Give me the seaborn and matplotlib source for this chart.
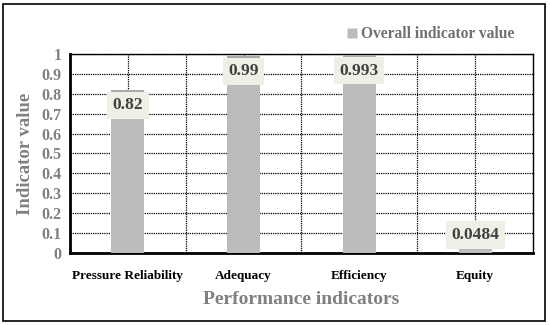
import matplotlib
matplotlib.use("Agg")
import matplotlib.pyplot as plt
import seaborn as sns
import pandas as pd
from matplotlib.patches import Rectangle
from matplotlib.lines import Line2D

categories = ["Pressure Reliability", "Adequacy", "Efficiency", "Equity"]
values = [0.82, 0.99, 0.993, 0.0484]
value_labels = ["0.82", "0.99", "0.993", "0.0484"]
y_ticks = [0, 0.1, 0.2, 0.3, 0.4, 0.5, 0.6, 0.7, 0.8, 0.9, 1]
y_tick_labels = ["0", "0.1", "0.2", "0.3", "0.4", "0.5", "0.6", "0.7", "0.8", "0.9", "1"]

sns.set_theme(style="white")
plt.rcParams["font.family"] = ["Liberation Serif", "DejaVu Serif"]
plt.rcParams["font.weight"] = "bold"

df = pd.DataFrame({"indicator": categories, "value": values})

fig = plt.figure(figsize=(5.5, 3.25), dpi=100)
ax = fig.add_axes([0.127, 0.2215, 0.842, 0.6125])

bar_color = "#bcbcbc"
sns.barplot(data=df, x="indicator", y="value", color=bar_color, width=0.285,
            saturation=1, ax=ax, zorder=3)
for p in ax.patches:
    p.set_edgecolor("none")

ax.set_xlim(-0.5, 3.5)
ax.set_ylim(0, 1)
ax.set_yticks(y_ticks)
ax.set_yticklabels(y_tick_labels, color="#808080", fontsize=11.5, fontweight="bold")
ax.set_xticks(range(len(categories)))
ax.set_xticklabels(categories, color="black", fontsize=9.5, fontweight="bold")
ax.set_xticks([0.5, 1.5, 2.5], minor=True)

ax.grid(True, which="major", axis="y", color="black", linestyle=(0, (1, 0.8)), linewidth=0.9, zorder=0)
ax.grid(True, which="both", axis="x", color="black", linestyle=(0, (1, 0.8)), linewidth=0.9, zorder=0)

for side in ["left", "bottom"]:
    ax.spines[side].set_linewidth(2)
    ax.spines[side].set_color("black")
for side in ["top", "right"]:
    ax.spines[side].set_linewidth(1)
    ax.spines[side].set_color("black")

ax.tick_params(axis="y", which="major", direction="in", length=5, width=1.5, pad=6, colors="black", labelcolor="#808080")
ax.tick_params(axis="x", which="major", direction="in", length=0, pad=12)
ax.tick_params(axis="x", which="minor", length=0)

ax.set_ylabel("Indicator value", color="#808080", fontsize=13.5, fontweight="bold", labelpad=5)
ax.set_xlabel("Performance indicators", color="#808080", fontsize=14, fontweight="bold", labelpad=7)

# darker top strip of each bar (visible above the label box)
for i, v in enumerate(values):
    if v > 0.1:
        ax.bar(i, 0.012, bottom=v - 0.012, width=0.285, color="#a9a9a9", zorder=4, linewidth=0)

for i, (v, lab) in enumerate(zip(values, value_labels)):
    if v > 0.1:
        y = v - 0.078
    else:
        y = v + 0.042
    ax.text(i, y, lab, ha="center", va="center", fontsize=12.5, fontweight="bold",
            color="#404040", zorder=5,
            bbox=dict(boxstyle="square,pad=0.32", facecolor="#efefe6", edgecolor="none"))

handle = Line2D([], [], marker="s", linestyle="none", markersize=7,
                markerfacecolor=bar_color, markeredgecolor="none")
leg = fig.legend([handle], ["Overall indicator value"], loc="center",
                 bbox_to_anchor=(0.78, 0.895), frameon=False, handletextpad=0.1,
                 handlelength=1.0, prop={"family": "Liberation Serif", "weight": "bold", "size": 11.2})
for t in leg.get_texts():
    t.set_color("#707070")

fig.patches.append(Rectangle((0.006, 0.012), 0.984, 0.975, transform=fig.transFigure,
                             fill=False, edgecolor="black", linewidth=1.2))

fig.savefig("out.png", dpi=100)
